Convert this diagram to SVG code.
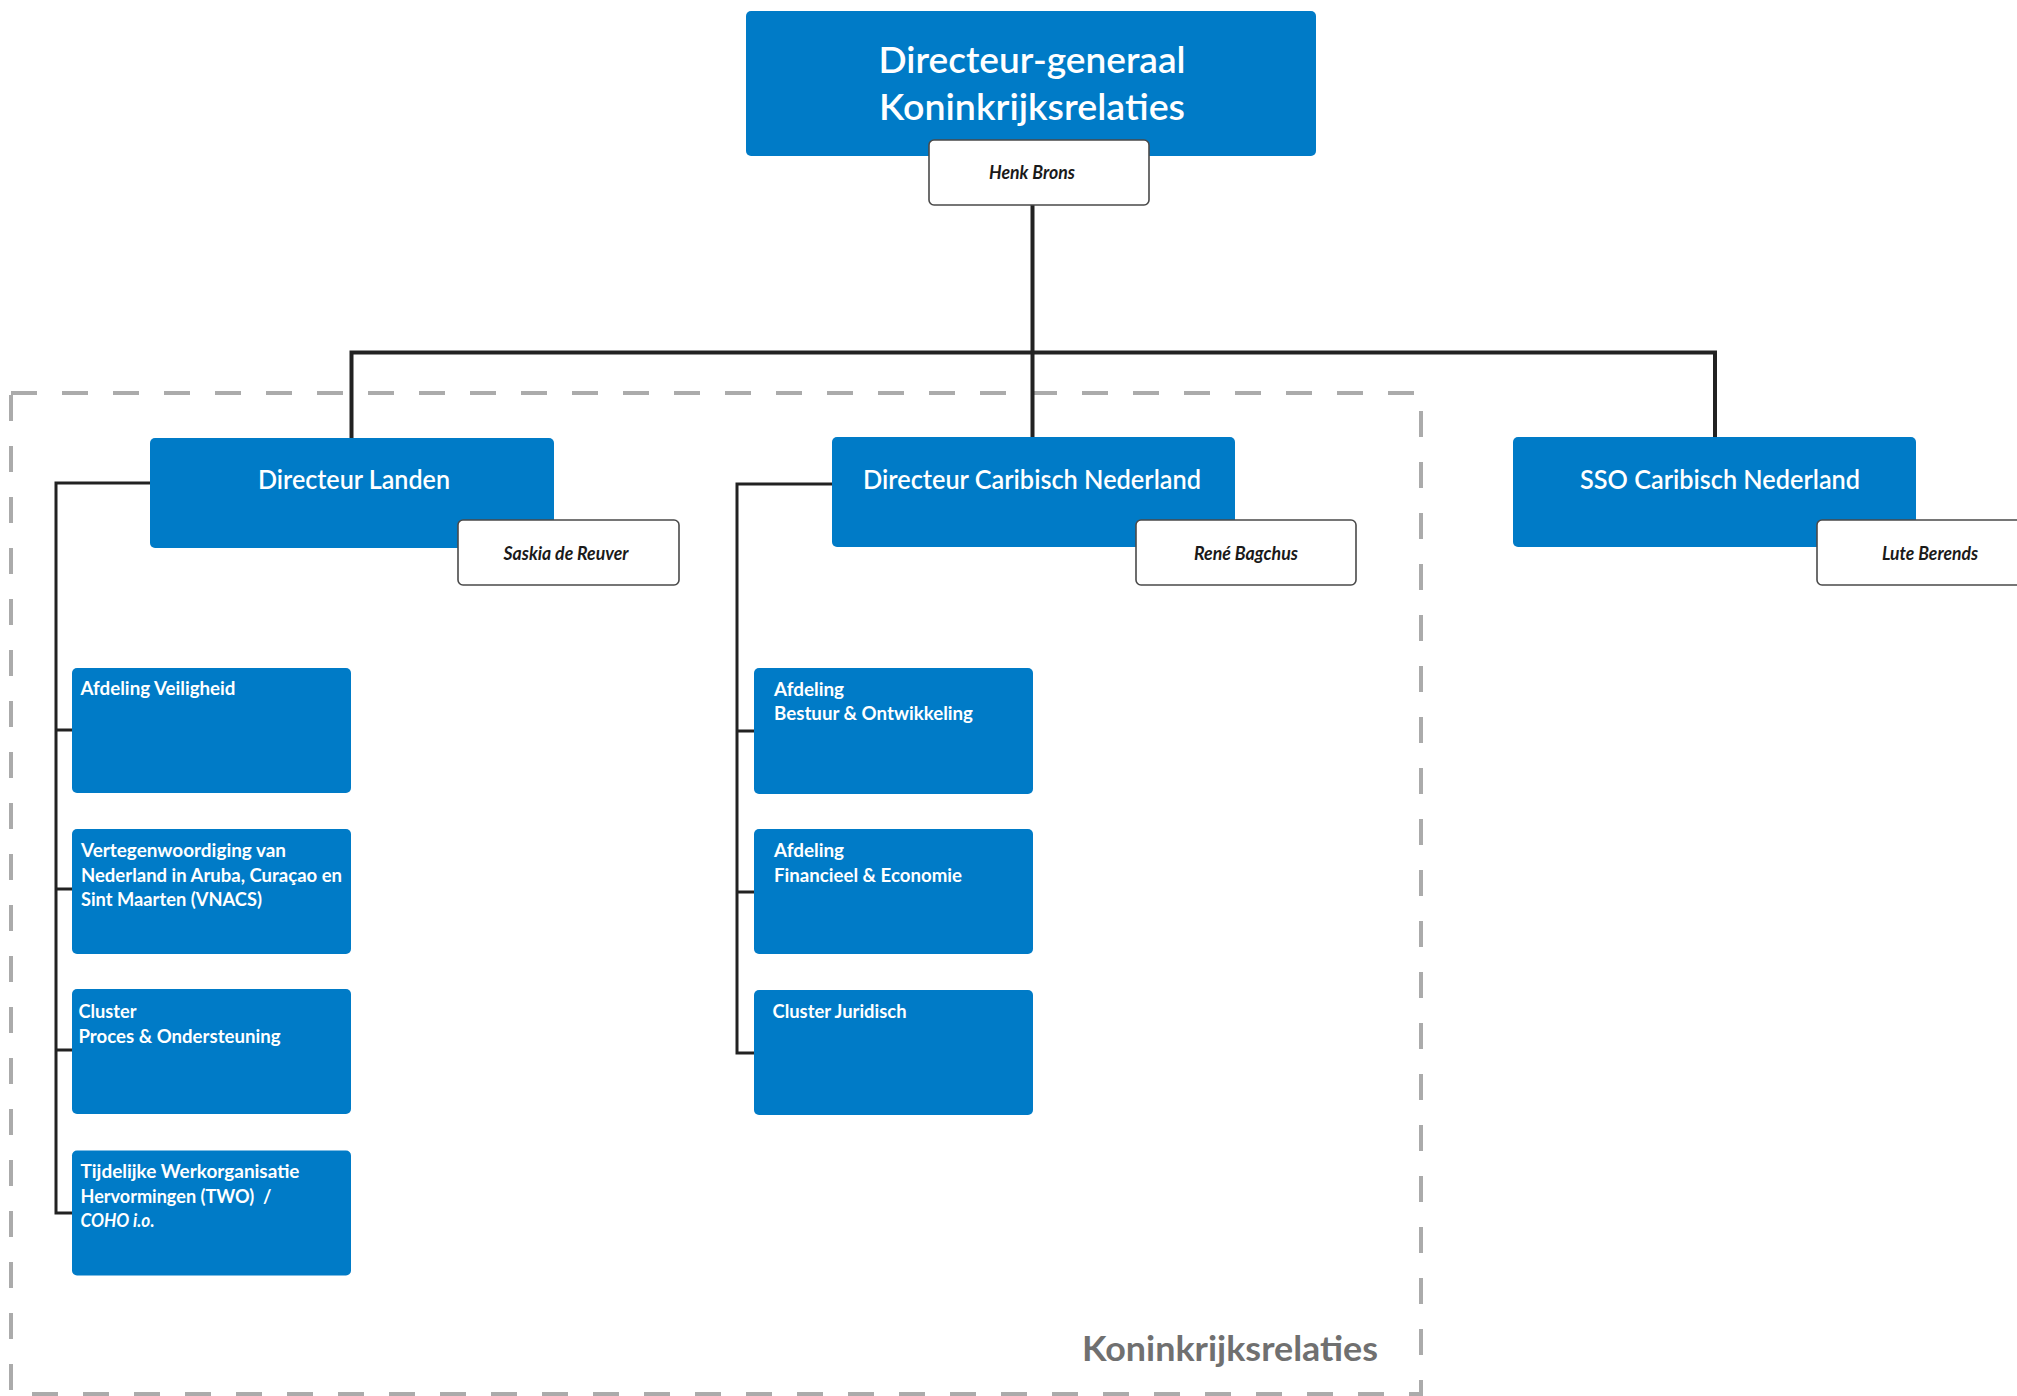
<svg xmlns="http://www.w3.org/2000/svg" width="2017" height="1396" viewBox="0 0 2017 1396">
<style>
.blue{fill:#007BC7}
.name{fill:#ffffff;stroke:#4a4a4a;stroke-width:1.6}
.t{font-family:Lato,"Open Sans","Liberation Sans",sans-serif;fill:#ffffff}
.hd{font-size:27px;font-weight:600;text-anchor:middle}
.dg{font-size:37px;font-weight:600;text-anchor:middle}
.sub{font-size:19.5px;font-weight:bold}
.nm{font-family:Lato,"Open Sans","Liberation Sans",sans-serif;font-size:18px;font-style:italic;font-weight:bold;fill:#1a1a1a;text-anchor:middle}
.main{fill:none;stroke:#222;stroke-width:4}
.tree{fill:none;stroke:#222;stroke-width:3}
</style>
<rect width="2017" height="1396" fill="#ffffff"/>
<g id="frame">
<rect x="11" y="393" width="1410" height="1001" fill="none" stroke="#ababab" stroke-width="4" stroke-dasharray="26 25"/>
<text x="1378" y="1361" text-anchor="end" font-family="Lato,'Open Sans','Liberation Sans',sans-serif" font-size="35" font-weight="bold" fill="#707070" textLength="296" lengthAdjust="spacingAndGlyphs">Koninkrijksrelaties</text>
</g>
<g id="connectors">
<path class="main" d="M1032.5 205 V352.5 M351.5 438 V352.5 H1715 V437 M1032.5 352.5 V437"/>
<path class="tree" d="M150 483 H56 V1213 H72 M56 730 H72 M56 889 H72 M56 1050 H72"/>
<path class="tree" d="M832 484 H737 V1053 H754 M737 731 H754 M737 892 H754"/>
</g>
<g id="dg">
<rect class="blue" x="746" y="11" width="570" height="145" rx="5"/>
<text class="t dg" x="1032" y="73" textLength="307" lengthAdjust="spacingAndGlyphs">Directeur-generaal</text>
<text class="t dg" x="1032" y="120" textLength="306" lengthAdjust="spacingAndGlyphs">Koninkrijksrelaties</text>
</g>
<g id="dg-name">
<rect class="name" x="929" y="140" width="220" height="65" rx="5"/>
<text class="nm" x="1032" y="179" textLength="86" lengthAdjust="spacingAndGlyphs">Henk Brons</text>
</g>
<g id="landen">
<rect class="blue" x="150" y="438" width="404" height="110" rx="5"/>
<text class="t hd" x="354" y="489" textLength="192" lengthAdjust="spacingAndGlyphs">Directeur Landen</text>
</g>
<g id="landen-name">
<rect class="name" x="458" y="520" width="221" height="65" rx="5"/>
<text class="nm" x="566" y="560" textLength="125" lengthAdjust="spacingAndGlyphs">Saskia de Reuver</text>
</g>
<g id="caribisch">
<rect class="blue" x="832" y="437" width="403" height="110" rx="5"/>
<text class="t hd" x="1032" y="489" textLength="338" lengthAdjust="spacingAndGlyphs">Directeur Caribisch Nederland</text>
</g>
<g id="caribisch-name">
<rect class="name" x="1136" y="520" width="220" height="65" rx="5"/>
<text class="nm" x="1246" y="560" textLength="104" lengthAdjust="spacingAndGlyphs">René Bagchus</text>
</g>
<g id="sso">
<rect class="blue" x="1513" y="437" width="403" height="110" rx="5"/>
<text class="t hd" x="1720" y="489" textLength="280" lengthAdjust="spacingAndGlyphs">SSO Caribisch Nederland</text>
</g>
<g id="sso-name">
<rect class="name" x="1817" y="520" width="222" height="65" rx="5"/>
<text class="nm" x="1930" y="560" textLength="96" lengthAdjust="spacingAndGlyphs">Lute Berends</text>
</g>
<g id="veiligheid">
<rect class="blue" x="72" y="668" width="279" height="125" rx="5"/>
<text class="t sub" x="80.5" y="695" textLength="155" lengthAdjust="spacingAndGlyphs">Afdeling Veiligheid</text>
</g>
<g id="vnacs">
<rect class="blue" x="72" y="829" width="279" height="125" rx="5"/>
<text class="t sub" x="81" y="857" textLength="205" lengthAdjust="spacingAndGlyphs">Vertegenwoordiging van</text>
<text class="t sub" x="81" y="881.5" textLength="261" lengthAdjust="spacingAndGlyphs">Nederland in Aruba, Curaçao en</text>
<text class="t sub" x="81" y="906" textLength="181" lengthAdjust="spacingAndGlyphs">Sint Maarten (VNACS)</text>
</g>
<g id="proces">
<rect class="blue" x="72" y="989" width="279" height="125" rx="5"/>
<text class="t sub" x="78.5" y="1018" textLength="58" lengthAdjust="spacingAndGlyphs">Cluster</text>
<text class="t sub" x="78.5" y="1042.5" textLength="202" lengthAdjust="spacingAndGlyphs">Proces &amp; Ondersteuning</text>
</g>
<g id="two">
<rect class="blue" x="72" y="1150.5" width="279" height="125" rx="5"/>
<text class="t sub" x="80.5" y="1177.5" textLength="219" lengthAdjust="spacingAndGlyphs">Tijdelijke Werkorganisatie</text>
<text class="t sub" x="80.5" y="1202.5" textLength="191" lengthAdjust="spacingAndGlyphs" xml:space="preserve">Hervormingen (TWO)  /</text>
<text class="t sub" x="80.5" y="1226.5" font-style="italic" textLength="74" lengthAdjust="spacingAndGlyphs">COHO i.o.</text>
</g>
<g id="bestuur">
<rect class="blue" x="754" y="668" width="279" height="126" rx="5"/>
<text class="t sub" x="774" y="696" textLength="70" lengthAdjust="spacingAndGlyphs">Afdeling</text>
<text class="t sub" x="774" y="720" textLength="199" lengthAdjust="spacingAndGlyphs">Bestuur &amp; Ontwikkeling</text>
</g>
<g id="financieel">
<rect class="blue" x="754" y="829" width="279" height="125" rx="5"/>
<text class="t sub" x="774" y="857" textLength="70" lengthAdjust="spacingAndGlyphs">Afdeling</text>
<text class="t sub" x="774" y="881.5" textLength="188" lengthAdjust="spacingAndGlyphs">Financieel &amp; Economie</text>
</g>
<g id="juridisch">
<rect class="blue" x="754" y="990" width="279" height="125" rx="5"/>
<text class="t sub" x="772.5" y="1017.5" textLength="134" lengthAdjust="spacingAndGlyphs">Cluster Juridisch</text>
</g>
</svg>
